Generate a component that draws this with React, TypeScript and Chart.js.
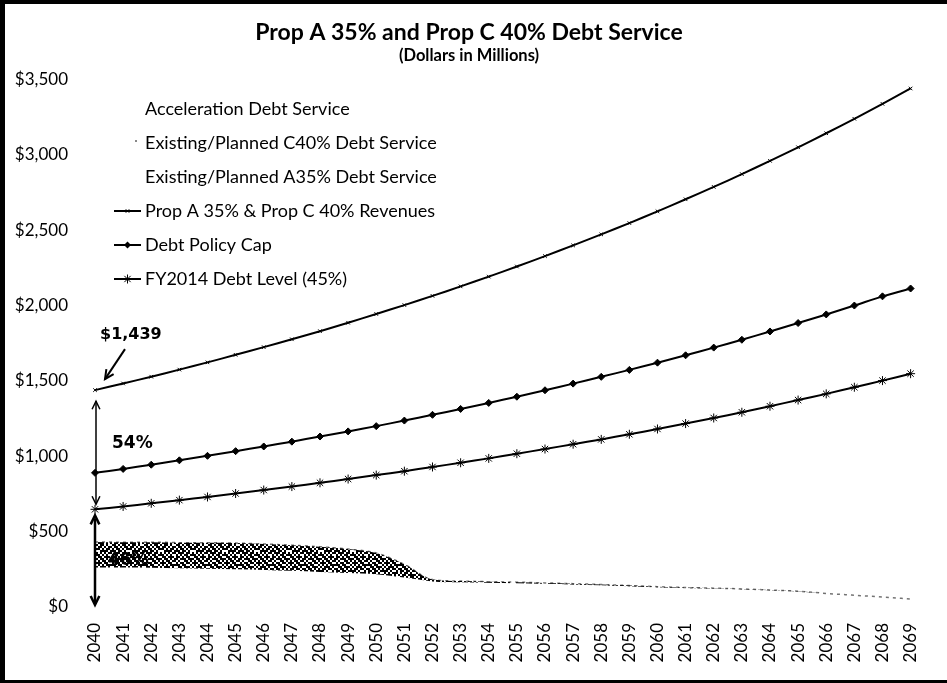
import React, { useEffect, useRef } from "react";
import { Chart, registerables } from "chart.js";

Chart.register(...registerables);

const YEARS = [
  "2040", "2041", "2042", "2043", "2044", "2045", "2046", "2047", "2048", "2049",
  "2050", "2051", "2052", "2053", "2054", "2055", "2056", "2057", "2058", "2059",
  "2060", "2061", "2062", "2063", "2064", "2065", "2066", "2067", "2068", "2069",
];

const Y_MIN = 0;
const Y_MAX = 3500;
const Y_STEP = 500;

const REVENUES = [
  1439, 1483, 1528, 1575, 1623, 1673, 1724, 1776, 1830, 1886,
  1944, 2003, 2064, 2127, 2192, 2259, 2328, 2399, 2472, 2547,
  2625, 2705, 2787, 2872, 2960, 3050, 3143, 3239, 3338, 3440,
];

const DEBT_POLICY_CAP = [
  890, 916, 944, 973, 1003, 1034, 1065, 1097, 1131, 1165,
  1200, 1237, 1275, 1314, 1354, 1395, 1438, 1482, 1527, 1573,
  1621, 1670, 1721, 1773, 1828, 1884, 1941, 2000, 2061, 2113,
];

const FY2014_LEVEL = [
  648, 667, 688, 709, 730, 753, 776, 799, 824, 849,
  875, 901, 929, 957, 986, 1017, 1048, 1080, 1112, 1146,
  1181, 1217, 1254, 1292, 1332, 1373, 1414, 1458, 1502, 1548,
];

const A35_DEBT = [
  262, 262, 260, 257, 254, 250, 246, 240, 233, 226,
  218, 195, 170, 164, 161, 158, 154, 150, 144, 138,
  131, 126, 122, 117, 111, 103, 90, 78, 66, 53,
];

const C40_DEBT = [
  170, 168, 170, 170, 172, 174, 172, 170, 167, 158,
  140, 88, 12, 8, 7, 7, 6, 5, 5, 4,
  4, 3, 3, 3, 2, 2, 0, 0, 0, 0,
];

const ACCEL_DEBT = [
  0, 0, 0, 0, 0, 0, 0, 20, 60, 120,
  140, 60, 20, 10, 5, 0, 0, 0, 0, 0,
  0, 0, 0, 0, 0, 0, 0, 0, 0, 0,
];

const SHARE_LABELS = ["54%", "46%"];

const DITHER = [
  "1011010011010110",
  "0110101101101011",
  "1101011010110101",
  "0011110111011010",
  "1010101101110110",
  "1101010010101101",
  "0110111011010110",
  "1011010110111011",
  "0101101101001101",
  "1110110010110110",
  "0101011111011001",
  "1011101001101110",
  "0110110110110101",
  "1101001011011011",
  "1010111010110100",
  "0111010101101111",
];

const FONT = "Lato, 'Open Sans', sans-serif";
const ANNO_FONT = "'DejaVu Sans', Verdana, sans-serif";

function makePattern(): CanvasPattern | string {
  const c = document.createElement("canvas");
  const n = DITHER.length;
  const s = 2;
  c.width = n * s;
  c.height = n * s;
  const g = c.getContext("2d");
  if (!g) return "#444";
  g.fillStyle = "#000";
  DITHER.forEach((row, r) => {
    for (let i = 0; i < row.length; i++) {
      if (row[i] === "1") g.fillRect(i * s, r * s, s, s);
    }
  });
  const p = g.createPattern(c, "repeat");
  return p || "#444";
}

function drawMarker(ctx: CanvasRenderingContext2D, style: string, x: number, y: number, r: number) {
  ctx.save();
  ctx.strokeStyle = "#000";
  ctx.fillStyle = "#000";
  ctx.lineWidth = 1;
  ctx.beginPath();
  if (style === "rectRot") {
    ctx.moveTo(x, y - r);
    ctx.lineTo(x + r, y);
    ctx.lineTo(x, y + r);
    ctx.lineTo(x - r, y);
    ctx.closePath();
    ctx.fill();
  } else if (style === "star") {
    const d = r * 0.7;
    ctx.moveTo(x - d, y - d);
    ctx.lineTo(x + d, y + d);
    ctx.moveTo(x + d, y - d);
    ctx.lineTo(x - d, y + d);
    ctx.moveTo(x, y - r);
    ctx.lineTo(x, y + r);
    ctx.stroke();
  } else if (style === "crossRot") {
    const d = r * 0.7;
    ctx.moveTo(x - d, y - d);
    ctx.lineTo(x + d, y + d);
    ctx.moveTo(x + d, y - d);
    ctx.lineTo(x - d, y + d);
    ctx.stroke();
  }
  ctx.restore();
}

function arrowHead(ctx: CanvasRenderingContext2D, x: number, y: number, ang: number, size: number) {
  const a1 = ang + Math.PI - 0.45;
  const a2 = ang + Math.PI + 0.45;
  ctx.beginPath();
  ctx.moveTo(x + Math.cos(a1) * size, y + Math.sin(a1) * size);
  ctx.lineTo(x, y);
  ctx.lineTo(x + Math.cos(a2) * size, y + Math.sin(a2) * size);
  ctx.stroke();
}

const legendPlugin = {
  id: "insideLegend",
  afterDraw(chart: any) {
    const ctx: CanvasRenderingContext2D = chart.ctx;
    const order = [5, 4, 3, 0, 1, 2];
    const startY = 109;
    const step = 34;
    ctx.save();
    ctx.font = `18px ${FONT}`;
    ctx.textBaseline = "middle";
    ctx.textAlign = "left";
    order.forEach((di, i) => {
      const ds = chart.data.datasets[di];
      const y = startY + i * step;
      if (!ds.fill) {
        ctx.strokeStyle = "#000";
        ctx.lineWidth = 2;
        ctx.beginPath();
        ctx.moveTo(114, y);
        ctx.lineTo(141, y);
        ctx.stroke();
        drawMarker(ctx, ds.pointStyle, 127.5, y, ds.pointRadius);
      } else if (ds.label.indexOf("C40") >= 0) {
        ctx.fillStyle = "#888";
        ctx.fillRect(135, y - 3, 2, 2);
      }
      ctx.fillStyle = "#000";
      ctx.fillText(ds.label, 145, y);
    });
    ctx.restore();
  },
};

const annotationPlugin = {
  id: "annotations",
  beforeDatasetsDraw(chart: any) {
    const ctx: CanvasRenderingContext2D = chart.ctx;
    const xs = chart.scales.x;
    const ys = chart.scales.y;
    const x0 = xs.getPixelForValue(0);
    const yFy = ys.getPixelForValue(FY2014_LEVEL[0]);
    const yZero = ys.getPixelForValue(0);
    ctx.save();
    ctx.fillStyle = "#000";
    ctx.font = `bold 17px ${ANNO_FONT}`;
    ctx.textBaseline = "middle";
    ctx.textAlign = "left";
    ctx.fillText(SHARE_LABELS[1], x0 + 13, (yFy + yZero) / 2 + 2);
    ctx.restore();
  },
  afterDatasetsDraw(chart: any) {
    const ctx: CanvasRenderingContext2D = chart.ctx;
    const xs = chart.scales.x;
    const ys = chart.scales.y;
    const x0 = xs.getPixelForValue(0);
    const yRev = ys.getPixelForValue(REVENUES[0]);
    const yFy = ys.getPixelForValue(FY2014_LEVEL[0]);
    const yZero = ys.getPixelForValue(0);
    ctx.save();
    ctx.strokeStyle = "#000";
    ctx.fillStyle = "#000";

    ctx.font = `bold 16px ${ANNO_FONT}`;
    ctx.textBaseline = "middle";
    ctx.textAlign = "left";
    ctx.fillText("$" + REVENUES[0].toLocaleString("en-US"), x0 + 5, yRev - 55);
    ctx.lineWidth = 2;
    const ax1 = x0 + 30, ay1 = yRev - 41;
    const ax2 = x0 + 10, ay2 = yRev - 11;
    ctx.beginPath();
    ctx.moveTo(ax1, ay1);
    ctx.lineTo(ax2, ay2);
    ctx.stroke();
    arrowHead(ctx, ax2, ay2, Math.atan2(ay2 - ay1, ax2 - ax1), 10);

    const ux = x0 + 1;
    const t1 = yRev + 11;
    const b1 = yFy - 5;
    ctx.lineWidth = 1.5;
    ctx.beginPath();
    ctx.moveTo(ux, t1);
    ctx.lineTo(ux, b1);
    ctx.stroke();
    arrowHead(ctx, ux, t1, -Math.PI / 2, 9);
    arrowHead(ctx, ux, b1, Math.PI / 2, 9);
    ctx.font = `bold 17px ${ANNO_FONT}`;
    ctx.fillText(SHARE_LABELS[0], x0 + 17, (yRev + yFy) / 2 - 6);

    const t2 = yFy + 6;
    const b2 = yZero - 2;
    ctx.lineWidth = 2.5;
    ctx.beginPath();
    ctx.moveTo(ux - 1, t2 + 3);
    ctx.lineTo(ux - 1, b2 - 3);
    ctx.stroke();
    arrowHead(ctx, ux - 1, t2, -Math.PI / 2, 10);
    arrowHead(ctx, ux - 1, b2, Math.PI / 2, 10);
    ctx.restore();
  },
};

export default function App() {
  const canvasRef = useRef<HTMLCanvasElement | null>(null);

  useEffect(() => {
    const canvas = canvasRef.current;
    if (!canvas) return;
    const pattern = makePattern();

    const lineCommon = {
      borderColor: "#000",
      backgroundColor: "#000",
      borderWidth: 2,
      pointBorderColor: "#000",
      pointBackgroundColor: "#000",
      pointBorderWidth: 1,
      fill: false,
      tension: 0.3,
    };

    const chart = new Chart(canvas, {
      type: "line",
      data: {
        labels: YEARS,
        datasets: [
          {
            ...lineCommon,
            type: "line",
            label: "Prop A 35% & Prop C 40% Revenues",
            data: REVENUES,
            stack: "rev",
            pointStyle: "crossRot",
            pointRadius: 2.5,
          } as any,
          {
            ...lineCommon,
            type: "line",
            label: "Debt Policy Cap",
            data: DEBT_POLICY_CAP,
            stack: "cap",
            pointStyle: "rectRot",
            pointRadius: 3.5,
          } as any,
          {
            ...lineCommon,
            type: "line",
            label: "FY2014 Debt Level (45%)",
            data: FY2014_LEVEL,
            stack: "fy",
            pointStyle: "star",
            pointRadius: 4.5,
          } as any,
          {
            type: "line",
            label: "Existing/Planned A35% Debt Service",
            data: A35_DEBT,
            stack: "ds",
            fill: "origin",
            backgroundColor: "rgba(255,255,255,0)",
            borderWidth: 0,
            pointRadius: 0,
            cubicInterpolationMode: "monotone",
          } as any,
          {
            type: "line",
            label: "Existing/Planned C40% Debt Service",
            data: C40_DEBT,
            stack: "ds",
            fill: "-1",
            backgroundColor: pattern,
            borderColor: "rgba(0,0,0,0.55)",
            borderWidth: 1.5,
            borderDash: [3, 4],
            pointRadius: 0,
            cubicInterpolationMode: "monotone",
          } as any,
          {
            type: "line",
            label: "Acceleration Debt Service",
            data: ACCEL_DEBT,
            stack: "ds",
            fill: "-1",
            backgroundColor: "rgba(255,255,255,0)",
            borderWidth: 0,
            pointRadius: 0,
            cubicInterpolationMode: "monotone",
          } as any,
        ],
      },
      options: {
        responsive: false,
        animation: false,
        events: [],
        layout: { padding: { left: 0, right: 9, top: 0, bottom: 0 } },
        plugins: {
          legend: { display: false },
          tooltip: { enabled: false },
          title: {
            display: true,
            text: "Prop A 35% and Prop C 40% Debt Service",
            color: "#000",
            font: { family: FONT, size: 23, weight: "bold", lineHeight: 1.1 },
            padding: { top: 20, bottom: 0 },
          },
          subtitle: {
            display: true,
            text: "(Dollars in Millions)",
            color: "#000",
            font: { family: FONT, size: 16.5, weight: "bold", lineHeight: 1.1 },
            padding: { top: 1, bottom: 15 },
          },
        },
        scales: {
          x: {
            type: "category",
            offset: false,
            grid: { display: false, drawTicks: false },
            border: { display: false },
            ticks: {
              autoSkip: false,
              minRotation: 90,
              maxRotation: 90,
              padding: 16,
              color: "#000",
              font: { family: FONT, size: 17 },
            },
            afterFit: (scale: any) => {
              scale.height = 76;
            },
          },
          y: {
            stacked: true,
            min: Y_MIN,
            max: Y_MAX,
            grid: { display: false, drawTicks: false },
            border: { display: false },
            ticks: {
              stepSize: Y_STEP,
              padding: 27,
              color: "#000",
              font: { family: FONT, size: 17 },
              callback: (v: any) => "$" + Number(v).toLocaleString("en-US"),
            },
            afterFit: (scale: any) => {
              scale.width = 95;
            },
          },
        },
      } as any,
      plugins: [annotationPlugin, legendPlugin],
    });

    return () => chart.destroy();
  }, []);

  return (
    <div
      style={{
        position: "fixed",
        left: 0,
        top: 0,
        width: 947,
        height: 683,
        background: "#fff",
        overflow: "hidden",
      }}
    >
      <canvas ref={canvasRef} width={947} height={683} style={{ display: "block" }} />
      <div style={{ position: "absolute", left: 0, top: 0, width: 5, height: 683, background: "#000" }} />
      <div style={{ position: "absolute", left: 0, top: 0, width: 947, height: 4, background: "#000" }} />
      <div style={{ position: "absolute", left: 0, top: 680, width: 947, height: 3, background: "#000" }} />
    </div>
  );
}
